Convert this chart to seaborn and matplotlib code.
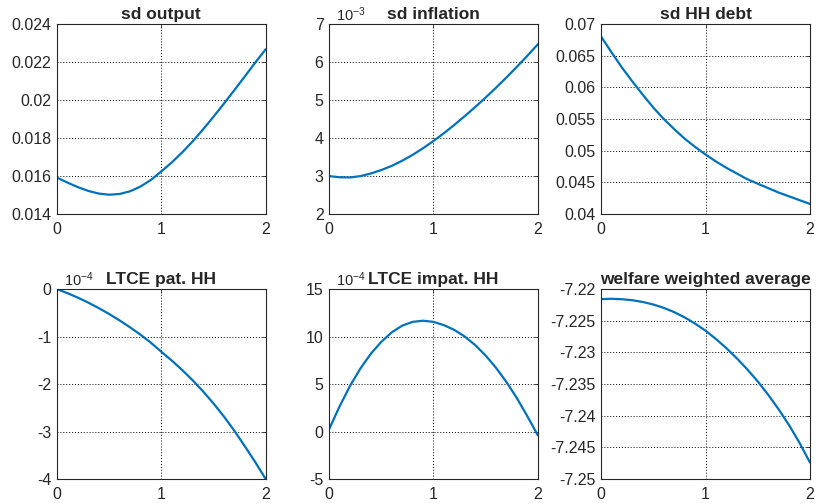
"""
Policy-parameter sweep: moments and welfare (LTCE) as functions of the
coefficient, six panels in the MATLAB style of the original figure.
"""

import matplotlib
matplotlib.use("Agg")
import matplotlib.pyplot as plt
import numpy as np
import seaborn as sns
from matplotlib.ticker import FixedLocator, FuncFormatter

# coefficient grid (step 0.1 from 0 to 2)
phi = [0.0, 0.1, 0.2, 0.3, 0.4, 0.5, 0.6, 0.7, 0.8, 0.9, 1.0,
       1.1, 1.2, 1.3, 1.4, 1.5, 1.6, 1.7, 1.8, 1.9, 2.0]

sd_output = [0.01592, 0.01566, 0.01542, 0.01522, 0.01508, 0.01502, 0.01506,
             0.01520, 0.01545, 0.01580, 0.01625, 0.01672, 0.01725, 0.01783,
             0.01846, 0.01913, 0.01982, 0.02053, 0.02125, 0.02198, 0.02268]

sd_inflation = [3.000e-3, 2.970e-3, 2.965e-3, 3.000e-3, 3.070e-3, 3.160e-3,
                3.270e-3, 3.405e-3, 3.560e-3, 3.735e-3, 3.925e-3, 4.130e-3,
                4.350e-3, 4.580e-3, 4.820e-3, 5.070e-3, 5.330e-3, 5.600e-3,
                5.880e-3, 6.170e-3, 6.470e-3]

sd_hh_debt = [0.0680, 0.0655, 0.0631, 0.0609, 0.0588, 0.0568, 0.0550, 0.0534,
              0.0519, 0.0506, 0.0494, 0.0483, 0.0473, 0.0464, 0.0455, 0.0448,
              0.0441, 0.0434, 0.0428, 0.0422, 0.0416]

ltce_pat = [0.0, -0.085e-4, -0.180e-4, -0.285e-4, -0.400e-4, -0.525e-4,
            -0.660e-4, -0.805e-4, -0.960e-4, -1.130e-4, -1.320e-4, -1.505e-4,
            -1.705e-4, -1.920e-4, -2.155e-4, -2.410e-4, -2.685e-4, -2.985e-4,
            -3.310e-4, -3.645e-4, -4.000e-4]

ltce_impat = [0.25e-4, 2.65e-4, 4.80e-4, 6.65e-4, 8.20e-4, 9.45e-4, 10.45e-4,
              11.15e-4, 11.55e-4, 11.67e-4, 11.55e-4, 11.20e-4, 10.70e-4,
              10.00e-4, 9.10e-4, 8.00e-4, 6.70e-4, 5.20e-4, 3.50e-4, 1.60e-4,
              -0.40e-4]

welfare_avg = [-7.22158, -7.22153, -7.22160, -7.22176, -7.22204, -7.22244,
               -7.22297, -7.22365, -7.22448, -7.22546, -7.22658, -7.22790,
               -7.22935, -7.23095, -7.23270, -7.23460, -7.23670, -7.23900,
               -7.24150, -7.24430, -7.24740]

titles = ["sd output", "sd inflation", "sd HH debt",
          "LTCE pat. HH", "LTCE impat. HH", "welfare weighted average"]

# (ymin, ymax, step, exponent shown above the axis or None)
y_axes = [
    (0.014, 0.024, 0.002, None),
    (2e-3, 7e-3, 1e-3, -3),
    (0.04, 0.07, 0.005, None),
    (-4e-4, 0.0, 1e-4, -4),
    (-5e-4, 15e-4, 5e-4, -4),
    (-7.25, -7.22, 0.005, None),
]

LINE_COLOR = "#0072BD"
AXIS_COLOR = "#262626"


def style_panel(ax, title, ymin, ymax, step, exponent):
    ax.set_xlim(0, 2)
    ax.set_ylim(ymin, ymax)
    ax.xaxis.set_major_locator(FixedLocator([0, 1, 2]))
    n = int(round((ymax - ymin) / step))
    ax.yaxis.set_major_locator(FixedLocator([ymin + k * step for k in range(n + 1)]))

    if exponent is None:
        ax.yaxis.set_major_formatter(FuncFormatter(lambda v, _: f"{v:.4g}"))
    else:
        scale = 10.0 ** exponent
        ax.yaxis.set_major_formatter(
            FuncFormatter(lambda v, _, s=scale: f"{round(v / s, 6):g}"))
        # MATLAB-style exponent sitting just above the top-left corner
        ax.text(0.035, 1.0, rf"$\mathregular{{10^{{{exponent}}}}}$",
                transform=ax.transAxes, ha="left", va="bottom",
                fontsize=10.5, color=AXIS_COLOR)

    ax.set_title(title, fontsize=12.5, fontweight="bold", pad=4)
    ax.set_xlabel("")
    ax.set_ylabel("")
    ax.grid(True, color="black", linestyle=(0, (1, 2)), linewidth=0.7)
    ax.tick_params(direction="in", length=3, width=0.6, colors=AXIS_COLOR,
                   labelsize=11.5, top=True, right=True)
    ax.tick_params(axis="x", pad=6)
    ax.tick_params(axis="y", pad=4)
    for spine in ax.spines.values():
        spine.set_visible(True)
        spine.set_color(AXIS_COLOR)
        spine.set_linewidth(0.8)


def main():
    sns.set_style("white")
    plt.rcParams["font.family"] = ["Liberation Sans", "DejaVu Sans"]
    plt.rcParams["axes.unicode_minus"] = False

    series = [sd_output, sd_inflation, sd_hh_debt,
              ltce_pat, ltce_impat, welfare_avg]

    fig, axes = plt.subplots(2, 3, figsize=(8.19, 5.04), dpi=100)
    fig.subplots_adjust(left=0.0696, right=0.989, top=0.952, bottom=0.0496,
                        wspace=0.304, hspace=0.395)

    for ax, values, title, (ymin, ymax, step, exponent) in zip(
            axes.flat, series, titles, y_axes):
        sns.lineplot(x=np.array(phi), y=np.array(values), ax=ax,
                     color=LINE_COLOR, linewidth=1.6)
        style_panel(ax, title, ymin, ymax, step, exponent)

    fig.savefig("out.png", dpi=100)
    plt.close(fig)


if __name__ == "__main__":
    main()
